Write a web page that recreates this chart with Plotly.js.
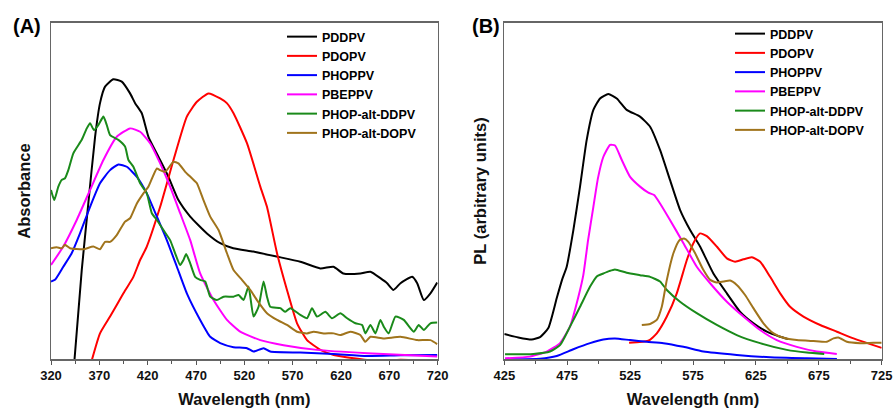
<!DOCTYPE html>
<html>
<head>
<meta charset="utf-8">
<script src="https://cdn.plot.ly/plotly-3.0.1.min.js"></script>
<style>html,body{margin:0;padding:0;background:#fff;}#chart{width:893px;height:409px;}</style>
</head>
<body>
<div id="chart"></div>
<script>
// ---------- Panel A: absorbance (arbitrary units) ----------
const absPDDPV_x = [343.5,351.8,358.6,365.6,370.7,375.9,384.5,393.2,401.8,407.0,413.9,420.8,431.1,441.5,451.8,464.0,481.3,495.0,508.5,529.2,553.8,577.9,598.6,612.1,622.4,640.0,650.4,660.7,667.7,674.2,681.5,693.6,698.8,705.6,712.5,719.5];
const absPDDPV_y = [-0.03,0.265,0.463,0.661,0.761,0.810,0.832,0.825,0.790,0.761,0.731,0.661,0.602,0.542,0.473,0.424,0.374,0.345,0.330,0.320,0.305,0.290,0.270,0.275,0.255,0.255,0.260,0.241,0.226,0.206,0.226,0.245,0.226,0.176,0.196,0.228];

const absPDOPV_x = [361.5,370.7,381.1,394.9,405.2,412.2,419.1,432.9,446.7,460.5,470.9,482.9,495.0,501.9,508.8,522.7,536.5,543.4,553.8,564.1,574.5,584.8,598.6,612.4,633.1,647.0,660.7,681.5,720.0];
const absPDOPV_y = [-0.01,0.077,0.127,0.196,0.245,0.295,0.335,0.453,0.592,0.721,0.765,0.790,0.775,0.761,0.731,0.642,0.513,0.453,0.315,0.206,0.107,0.057,0.028,0.013,0.003,-0.002,-0.004,-0.001,-0.005];

const absPHOPPV_x = [320.0,324.1,332.7,341.4,350.0,360.4,370.7,381.1,389.7,398.4,408.8,419.1,429.5,439.8,450.2,460.5,474.3,484.7,495.0,508.8,522.7,529.5,539.9,546.8,577.9,612.4,647.0,681.5,719.5];
const absPHOPPV_y = [0.231,0.236,0.275,0.315,0.374,0.453,0.523,0.562,0.579,0.572,0.542,0.493,0.424,0.354,0.275,0.196,0.117,0.067,0.048,0.036,0.033,0.023,0.033,0.023,0.020,0.016,0.010,0.012,0.013];

const absPBEPPV_x = [320.0,332.7,346.6,360.4,374.2,388.0,401.8,412.2,422.5,432.9,443.2,453.6,464.0,474.3,488.1,502.0,515.7,536.5,560.6,595.2,647.0,719.5];
const absPBEPPV_y = [0.280,0.335,0.414,0.503,0.592,0.661,0.686,0.676,0.642,0.582,0.513,0.434,0.354,0.255,0.176,0.117,0.082,0.057,0.042,0.028,0.018,0.008];

const absDDPV_x = [320.0,323.4,327.6,331.1,334.5,337.9,343.1,351.8,357.0,360.4,364.5,369.0,374.2,377.7,381.1,389.7,396.6,400.1,405.2,412.2,419.1,424.3,429.5,436.3,443.2,448.4,453.6,457.0,459.8,464.0,469.1,474.3,479.5,484.7,491.6,498.5,508.8,514.0,519.2,524.3,529.5,534.7,539.9,543.4,546.8,557.2,562.4,567.5,577.9,584.8,590.0,595.2,603.8,610.7,619.3,626.3,634.9,641.8,645.2,650.4,655.6,660.7,664.2,669.3,676.3,684.9,695.2,700.4,705.6,712.5,719.5];
const absDDPV_y = [0.503,0.473,0.513,0.533,0.538,0.562,0.612,0.652,0.686,0.701,0.681,0.696,0.721,0.696,0.666,0.652,0.632,0.592,0.572,0.523,0.493,0.434,0.414,0.384,0.354,0.315,0.280,0.295,0.313,0.285,0.245,0.236,0.231,0.186,0.176,0.186,0.186,0.191,0.176,0.216,0.127,0.156,0.231,0.186,0.156,0.152,0.141,0.152,0.132,0.122,0.152,0.127,0.141,0.122,0.137,0.122,0.107,0.102,0.077,0.102,0.077,0.117,0.097,0.077,0.127,0.117,0.082,0.102,0.087,0.107,0.109];

const absDOPV_x = [320.0,325.9,331.1,334.5,339.7,353.5,363.8,370.7,375.9,381.1,388.0,396.6,401.8,408.8,415.6,420.8,429.5,432.9,438.1,446.7,451.8,458.8,465.7,470.9,477.7,484.7,493.3,502.0,508.8,517.5,526.1,533.0,543.4,553.8,564.1,574.5,584.8,591.7,602.1,612.4,619.3,629.7,640.0,645.2,650.4,664.2,681.5,698.8,712.5,719.5];
const absDOPV_y = [0.330,0.333,0.330,0.340,0.330,0.327,0.335,0.327,0.349,0.349,0.369,0.409,0.419,0.463,0.493,0.513,0.567,0.562,0.557,0.587,0.582,0.557,0.538,0.523,0.473,0.424,0.384,0.315,0.265,0.236,0.206,0.176,0.137,0.117,0.102,0.082,0.077,0.082,0.077,0.077,0.072,0.082,0.072,0.052,0.067,0.062,0.067,0.057,0.057,0.045];

// ---------- Panel B: PL (arbitrary units) ----------
const plPDDPV_x = [425.0,436.1,446.8,453.4,460.0,466.7,470.9,474.6,479.9,485.2,490.5,495.8,501.1,507.7,514.4,522.3,532.9,540.9,548.8,556.7,564.7,572.7,580.6,591.2,601.9,612.5,623.1,633.7,644.3,650.6];
const plPDDPV_y = [0.075,0.065,0.059,0.066,0.093,0.182,0.236,0.275,0.384,0.513,0.652,0.741,0.775,0.788,0.775,0.741,0.721,0.691,0.622,0.533,0.444,0.384,0.335,0.255,0.196,0.141,0.107,0.082,0.067,0.060];

const plPDOPV_x = [524.2,539.5,546.2,554.2,562.1,570.1,575.3,580.6,586.0,593.9,601.9,608.5,615.1,621.8,628.4,636.3,644.3,652.2,662.8,676.1,689.4,702.6,715.9,725.0];
const plPDOPV_y = [0.049,0.055,0.077,0.127,0.196,0.295,0.345,0.374,0.366,0.335,0.300,0.290,0.297,0.303,0.290,0.245,0.196,0.156,0.127,0.102,0.082,0.062,0.045,0.034];

const plPHOPPV_x = [425.6,453.4,466.7,479.9,493.2,503.7,513.0,525.0,538.3,551.5,567.4,583.3,609.8,636.3,665.5,689.4];
const plPHOPPV_y = [0.000,0.002,0.010,0.030,0.048,0.059,0.062,0.057,0.052,0.048,0.037,0.023,0.013,0.006,0.003,0.001];

const plPBEPPV_x = [425.6,445.4,458.7,469.3,477.2,483.9,487.8,491.6,495.8,499.5,503.7,509.1,513.0,518.4,525.0,532.9,539.5,544.1,548.8,556.7,567.4,578.0,588.6,601.9,615.1,628.3,641.6,657.5,673.4,689.3];
const plPBEPPV_y = [0.003,0.008,0.023,0.048,0.097,0.186,0.250,0.354,0.453,0.539,0.601,0.637,0.635,0.592,0.542,0.513,0.495,0.488,0.463,0.414,0.345,0.275,0.226,0.171,0.127,0.087,0.057,0.037,0.023,0.016];

const plDDPV_x = [425.6,448.1,461.3,469.3,477.2,485.2,493.2,498.7,503.7,508.3,513.0,522.3,532.9,540.9,548.8,554.2,564.7,578.0,593.9,609.8,628.3,649.6,665.5,679.3];
const plDDPV_y = [0.015,0.016,0.023,0.042,0.097,0.156,0.216,0.247,0.255,0.262,0.267,0.257,0.250,0.245,0.231,0.206,0.171,0.137,0.102,0.072,0.048,0.028,0.020,0.016];

const plDOPV_x = [534.3,540.9,546.2,550.2,554.2,559.4,564.2,567.9,571.3,576.7,583.3,588.6,593.9,599.2,604.5,609.8,616.4,623.0,631.0,639.0,646.9,657.5,670.8,681.4,686.7,690.6,697.3,707.9,718.5,725.0];
const plDOPV_y = [0.102,0.105,0.117,0.156,0.236,0.315,0.354,0.359,0.349,0.315,0.265,0.236,0.228,0.231,0.234,0.221,0.191,0.152,0.107,0.077,0.064,0.057,0.054,0.052,0.062,0.065,0.052,0.048,0.049,0.049];

const names = ['PDDPV','PDOPV','PHOPPV','PBEPPV','PHOP-alt-DDPV','PHOP-alt-DOPV'];
const colors = ['#000000','#ff0000','#0000ff','#ff00ff','#1a8a1a','#a0741c'];
const xTickVals = [320,370,420,470,520,570,620,670,720];
const xTickValsB = [425,475,525,575,625,675,725];

const absX = [absPDDPV_x,absPDOPV_x,absPHOPPV_x,absPBEPPV_x,absDDPV_x,absDOPV_x];
const absY = [absPDDPV_y,absPDOPV_y,absPHOPPV_y,absPBEPPV_y,absDDPV_y,absDOPV_y];
const plX = [plPDDPV_x,plPDOPV_x,plPHOPPV_x,plPBEPPV_x,plDDPV_x,plDOPV_x];
const plY = [plPDDPV_y,plPDOPV_y,plPHOPPV_y,plPBEPPV_y,plDDPV_y,plDOPV_y];

const traces = [];
names.forEach((n,i)=>{
  traces.push({x:absX[i], y:absY[i], name:n, type:'scatter', mode:'lines',
    line:{color:colors[i], width:2, shape:'spline', smoothing:0.5},
    xaxis:'x', yaxis:'y', legend:'legend', hoverinfo:'skip'});
});
names.forEach((n,i)=>{
  traces.push({x:plX[i], y:plY[i], name:n, type:'scatter', mode:'lines',
    line:{color:colors[i], width:2, shape:'spline', smoothing:0.5},
    xaxis:'x2', yaxis:'y2', legend:'legend2', hoverinfo:'skip'});
});

const W = 893, H = 409;
const FAM = 'Arial, Liberation Sans, sans-serif';
const tickFont = {family:FAM, size:13, color:'#111', weight:'bold'};
const titleFont = {family:FAM, size:16.5, color:'#111', weight:'bold'};
const legFont = {family:FAM, size:12.5, color:'#000', weight:'bold'};
const yBot = 1 - 359.3/H, yTop = 1 - 22.7/H;

function xax(domain, range, vals, tick0){
  return {domain:domain, range:range, tickvals:vals, ticks:'outside', ticklen:4, tickwidth:1, tickcolor:'#555',
    minor:{ticks:'outside', ticklen:3, dtick:25, tick0:tick0, tickcolor:'#555'},
    showline:true, linecolor:'#666', linewidth:1.3, mirror:true, showgrid:false, zeroline:false,
    tickfont:tickFont, title:{text:'Wavelength (nm)', font:titleFont, standoff:11}, fixedrange:true};
}
function yax(anchor, title, range, standoff){
  return {domain:[yBot,yTop], range:range, anchor:anchor, showticklabels:false, ticks:'',
    showline:true, linecolor:'#666', linewidth:1.3, mirror:true, showgrid:false, zeroline:false,
    title:{text:title, font:titleFont, standoff:standoff}, fixedrange:true};
}

const layout = {
  width:W, height:H, margin:{l:0,r:0,t:0,b:0}, paper_bgcolor:'#fff', plot_bgcolor:'#fff',
  showlegend:true,
  xaxis: Object.assign(xax([51/W, 437.7/W],[320,720], xTickVals, 320), {anchor:'y'}),
  yaxis: yax('x','Absorbance',[0,1],15),
  xaxis2: Object.assign(xax([504.3/W, 881.7/W],[425,725], xTickValsB, 425), {anchor:'y2'}),
  yaxis2: yax('x2','PL (arbitrary units)',[0,1],12),
  legend:{x:282/W, y:1-22/H, xanchor:'left', yanchor:'top', font:legFont, bgcolor:'rgba(0,0,0,0)', borderwidth:0},
  legend2:{x:730/W, y:1-19/H, xanchor:'left', yanchor:'top', font:legFont, bgcolor:'rgba(0,0,0,0)', borderwidth:0},
  annotations:[
    {text:'(A)', x:26.5/W, y:1-26.5/H, xref:'paper', yref:'paper', xanchor:'center', yanchor:'middle', showarrow:false, font:{family:FAM, size:20, color:'#000', weight:'bold'}},
    {text:'(B)', x:485.5/W, y:1-26.5/H, xref:'paper', yref:'paper', xanchor:'center', yanchor:'middle', showarrow:false, font:{family:FAM, size:20, color:'#000', weight:'bold'}}
  ]
};

Plotly.newPlot('chart', traces, layout, {staticPlot:true, displayModeBar:false});
</script>
</body>
</html>
